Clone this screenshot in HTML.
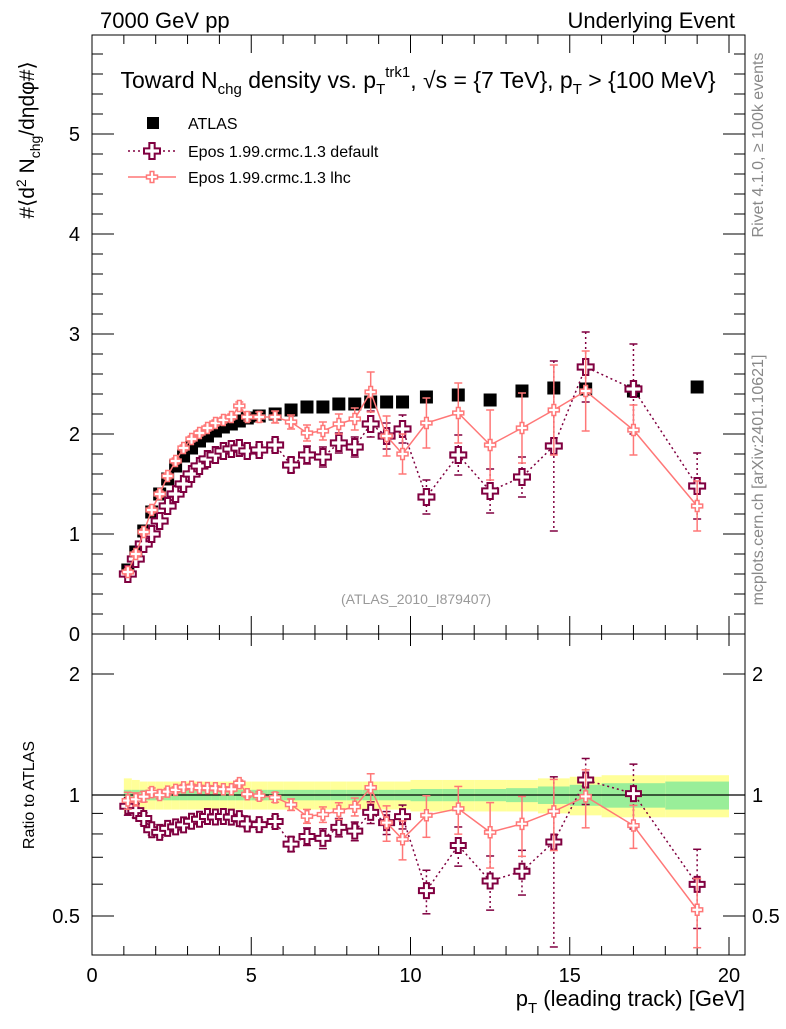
<!DOCTYPE html>
<html><head><meta charset="utf-8"><style>
body{margin:0;background:#fff;}
svg text{font-family:"Liberation Sans",sans-serif;}
</style></head><body>
<svg id="c" width="786" height="1024" viewBox="0 0 786 1024" xmlns="http://www.w3.org/2000/svg">
<rect x="0" y="0" width="786" height="1024" fill="#fff"/>
<g id="bands"></g>
<g id="axes"></g>
<g id="series"></g>
<text x="100" y="28" font-size="22">7000 GeV pp</text>
<text x="735" y="28" font-size="22" text-anchor="end">Underlying Event</text>
<text x="418" y="88" font-size="23" text-anchor="middle">Toward N<tspan font-size="15" dy="6">chg</tspan><tspan dy="-6"> density vs. p</tspan><tspan font-size="15" dy="6">T</tspan><tspan font-size="15" dy="-17">trk1</tspan><tspan dy="11">, √s = {7 TeV}, p</tspan><tspan font-size="15" dy="6">T</tspan><tspan dy="-6"> &gt; {100 MeV}</tspan></text>
<g>
<rect x="147" y="117" width="12" height="12" fill="#000"/>
<text x="188" y="129" font-size="16">ATLAS</text>
<line x1="128" y1="151" x2="176" y2="151" stroke="#800040" stroke-width="1.5" stroke-dasharray="2,3"/>
<path id="legcross1"/>
<text x="188" y="157" font-size="16">Epos 1.99.crmc.1.3 default</text>
<line x1="128" y1="177" x2="176" y2="177" stroke="#ff7777" stroke-width="1.5"/>
<path id="legcross2"/>
<text x="188" y="183" font-size="16">Epos 1.99.crmc.1.3 lhc</text>
</g>
<text x="416" y="604" font-size="14" fill="#999" text-anchor="middle">(ATLAS_2010_I879407)</text>
<text transform="translate(763,145) rotate(-90)" font-size="16" fill="#888" text-anchor="middle">Rivet 4.1.0, ≥ 100k events</text>
<text transform="translate(763,480) rotate(-90)" font-size="16" fill="#888" text-anchor="middle">mcplots.cern.ch [arXiv:2401.10621]</text>
<text transform="translate(34,140) rotate(-90)" font-size="21" text-anchor="middle">#⟨d<tspan font-size="14" dy="-8">2</tspan><tspan dy="8"> N</tspan><tspan font-size="14" dy="6">chg</tspan><tspan dy="-6">/dηdφ#⟩</tspan></text>
<text transform="translate(34,795) rotate(-90)" font-size="16" text-anchor="middle">Ratio to ATLAS</text>
<text x="745" y="1006" font-size="22" text-anchor="end">p<tspan font-size="15" dy="7">T</tspan><tspan dy="-7"> (leading track) [GeV]</tspan></text>
</svg>
<script>
const xs=[1.125,1.375,1.625,1.875,2.125,2.375,2.625,2.875,3.125,3.375,3.625,3.875,4.125,4.375,4.625,4.875,5.25,5.75,6.25,6.75,7.25,7.75,8.25,8.75,9.25,9.75,10.5,11.5,12.5,13.5,14.5,15.5,17,19];
const xLo=[1.0,1.25,1.5,1.75,2.0,2.25,2.5,2.75,3.0,3.25,3.5,3.75,4.0,4.25,4.5,4.75,5.0,5.5,6.0,6.5,7.0,7.5,8.0,8.5,9.0,9.5,10,11,12,13,14,15,16,18];
const xHi=[1.25,1.5,1.75,2.0,2.25,2.5,2.75,3.0,3.25,3.5,3.75,4.0,4.25,4.5,4.75,5.0,5.5,6.0,6.5,7.0,7.5,8.0,8.5,9.0,9.5,10,11,12,13,14,15,16,18,20];
const atlas=[0.64,0.82,1.03,1.22,1.40,1.55,1.68,1.78,1.86,1.93,1.98,2.03,2.07,2.10,2.13,2.16,2.18,2.20,2.24,2.27,2.27,2.30,2.30,2.32,2.32,2.32,2.37,2.39,2.34,2.43,2.46,2.45,2.43,2.47];
const statBand=[0.03,0.03,0.03,0.03,0.03,0.03,0.03,0.03,0.03,0.03,0.03,0.03,0.03,0.03,0.03,0.03,0.03,0.03,0.03,0.03,0.03,0.03,0.03,0.03,0.03,0.03,0.035,0.035,0.035,0.04,0.05,0.06,0.07,0.08];
const totBand=[0.10,0.09,0.08,0.08,0.08,0.08,0.08,0.08,0.08,0.08,0.08,0.08,0.08,0.08,0.08,0.08,0.08,0.08,0.08,0.08,0.08,0.08,0.08,0.08,0.08,0.08,0.09,0.09,0.09,0.09,0.10,0.11,0.12,0.12];
const dflt=[0.60,0.75,0.90,1.00,1.13,1.28,1.40,1.50,1.60,1.68,1.75,1.79,1.83,1.85,1.86,1.83,1.84,1.89,1.69,1.79,1.77,1.91,1.87,2.10,1.98,2.05,1.37,1.79,1.43,1.57,1.88,2.67,2.45,1.48];
const dfltErr=[0.03,0.03,0.03,0.03,0.03,0.03,0.03,0.03,0.03,0.03,0.03,0.03,0.03,0.03,0.04,0.04,0.05,0.06,0.07,0.09,0.1,0.1,0.1,0.13,0.13,0.14,0.17,0.2,0.22,0.2,0.85,0.35,0.45,0.33];
const lhc=[0.62,0.80,1.02,1.24,1.40,1.58,1.73,1.86,1.95,2.01,2.06,2.11,2.14,2.17,2.28,2.17,2.17,2.17,2.12,2.01,2.03,2.10,2.15,2.42,1.98,1.80,2.11,2.21,1.89,2.06,2.24,2.43,2.04,1.28];
const lhcErr=[0.03,0.03,0.03,0.03,0.03,0.03,0.03,0.03,0.03,0.03,0.03,0.03,0.03,0.03,0.04,0.04,0.05,0.06,0.07,0.08,0.09,0.1,0.11,0.2,0.2,0.2,0.25,0.3,0.35,0.35,0.45,0.4,0.25,0.25];
const xTicks=[0,5,10,15,20];
const yTicks=[0,1,2,3,4,5];
const rTicks=[0.5,1,2];

const NS="http://www.w3.org/2000/svg";
const L=92,R=745,T=35,B=634,RB=955;
const X=v=>L+v*31.85;
const Y=v=>B-v*100;
const YR=r=>795-121*Math.log2(r);
function mk(tag,attrs,parent){const e=document.createElementNS(NS,tag);for(const k in attrs)e.setAttribute(k,attrs[k]);document.getElementById(parent).appendChild(e);return e;}
function crossD(cx,cy,s){const a=s/2,b=s/6;return `M${cx-b},${cy-a}H${cx+b}V${cy-b}H${cx+a}V${cy+b}H${cx+b}V${cy+a}H${cx-b}V${cy+b}H${cx-a}V${cy-b}H${cx-b}Z`;}
document.getElementById('legcross1').setAttribute('d',crossD(152,151,16));
document.getElementById('legcross1').setAttribute('fill','#fff');document.getElementById('legcross1').setAttribute('stroke','#800040');document.getElementById('legcross1').setAttribute('stroke-width','2');
document.getElementById('legcross2').setAttribute('d',crossD(152,177,11));
document.getElementById('legcross2').setAttribute('fill','#fff');document.getElementById('legcross2').setAttribute('stroke','#ff7777');document.getElementById('legcross2').setAttribute('stroke-width','1.5');

for(let i=0;i<xs.length;i++){
  const x1=X(xLo[i]),x2=X(xHi[i]);
  let e=mk('rect',{x:x1,y:YR(1+totBand[i]),width:x2-x1,height:YR(1-totBand[i])-YR(1+totBand[i]),fill:'#ffff99'},'bands');
  
  
  e=mk('rect',{x:x1,y:YR(1+statBand[i]),width:x2-x1,height:YR(1-statBand[i])-YR(1+statBand[i]),fill:'#99ee99'},'bands');
  
  
}
function ln(x1,y1,x2,y2,w,par){return mk('line',{x1,y1,x2,y2,stroke:'#000','stroke-width':w||1},par||'axes');}
let fr=mk('rect',{x:L,y:T,width:R-L,height:B-T,fill:'none',stroke:'#000','stroke-width':1},'axes');


fr=mk('rect',{x:L,y:B,width:R-L,height:RB-B,fill:'none',stroke:'#000','stroke-width':1},'axes');


ln(L,795,R,795,1.2);
for(let v=0;v<=20.5;v+=1){const big=v%5===0;const h=big?18:9;
  ln(X(v),B,X(v),B-h);ln(X(v),T,X(v),T+h);ln(X(v),RB,X(v),RB-h);ln(X(v),B,X(v),B+(big?12:6));}
xTicks.forEach(v=>{const t=mk('text',{x:X(v),y:982,'font-size':20,'text-anchor':'middle'},'axes');t.textContent=v;
  
  });
for(let v=0;v<=5.95;v+=0.2){const big=Math.abs(v-Math.round(v))<0.01;const h=big?22:11;ln(L,Y(v),L+h,Y(v));ln(R,Y(v),R-h,Y(v));}
yTicks.forEach(v=>{const t=mk('text',{x:80,y:Y(v)+7,'font-size':20,'text-anchor':'end'},'axes');t.textContent=v;
  
  });
[0.5,0.6,0.7,0.8,0.9,1,2].forEach(r=>{const big=(r===0.5||r===1||r===2);const h=big?22:11;ln(L,YR(r),L+h,YR(r));ln(R,YR(r),R-h,YR(r));});
rTicks.forEach(v=>{let t=mk('text',{x:80,y:YR(v)+7,'font-size':20,'text-anchor':'end'},'axes');t.textContent=v;
  
  
  t=mk('text',{x:752,y:YR(v)+7,'font-size':20},'axes');t.textContent=v;
  
  });

function drawSeries(vals,errs,color,dash,size,name,ratio){
  const yf=ratio?(i,v)=>YR(v/atlas[i]):(i,v)=>Y(v);
  let d='';vals.forEach((v,i)=>{d+=(i?'L':'M')+X(xs[i])+','+yf(i,v);});
  const p=mk('path',{d,fill:'none',stroke:color,'stroke-width':1.5,'stroke-dasharray':dash},'series');
  
  
  vals.forEach((v,i)=>{
    const y1=yf(i,v+errs[i]),y2=yf(i,Math.max(v-errs[i],0.3));
    const e=mk('line',{x1:X(xs[i]),y1,x2:X(xs[i]),y2,stroke:color,'stroke-width':1.5,'stroke-dasharray':dash},'series');
    
    
    mk('line',{x1:X(xs[i])-4,y1,x2:X(xs[i])+4,y2:y1,stroke:color,'stroke-width':1.5},'series');
    mk('line',{x1:X(xs[i])-4,y1:y2,x2:X(xs[i])+4,y2:y2,stroke:color,'stroke-width':1.5},'series');
  });
  vals.forEach((v,i)=>{
    const m=mk('path',{d:crossD(X(xs[i]),yf(i,v),size),fill:'#fff',stroke:color,'stroke-width':size>12?2:1.5},'series');
    
    
  });
}
atlas.forEach((v,i)=>{
  const r=mk('rect',{x:X(xs[i])-6.5,y:Y(v)-6.5,width:13,height:13,fill:'#000'},'series');
  
  
});
drawSeries(dflt,dfltErr,'#800040','2,3',16,'default',false);
drawSeries(lhc,lhcErr,'#ff7777','',11,'lhc',false);
drawSeries(dflt,dfltErr,'#800040','2,3',15,'default-ratio',true);
drawSeries(lhc,lhcErr,'#ff7777','',11,'lhc-ratio',true);
</script>
</body></html>
